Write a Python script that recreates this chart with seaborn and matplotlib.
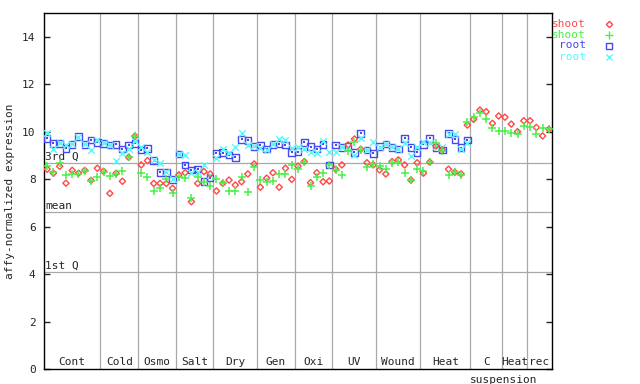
import numpy as np
import pandas as pd
import matplotlib
matplotlib.use("Agg")
import matplotlib.pyplot as plt
from matplotlib.lines import Line2D
import seaborn as sns

# ---------------- data ----------------
groups = ["Cont", "Cold", "Osmo", "Salt", "Dry", "Gen", "Oxi", "UV", "Wound",
          "Heat", "C", "Heat", "rec"]
group_sizes = [9, 6, 6, 6, 7, 6, 6, 7, 7, 8, 5, 4, 4]

shoot_rep1 = [8.42, 8.25, 8.54, 7.83, 8.37, 8.25, 8.37, 7.95, 8.46,
              8.33, 7.40, 8.25, 7.91, 8.92, 9.81,
              8.60, 8.78, 7.82, 7.82, 7.82, 7.61,
              8.18, 8.27, 7.05, 7.82, 8.32, 8.22,
              7.50, 7.82, 7.96, 7.75, 7.89, 8.22, 8.64,
              7.66, 8.04, 8.27, 7.66, 8.46, 7.99,
              8.55, 8.74, 7.85, 8.27, 7.89, 7.92,
              8.42, 8.60, 9.44, 9.69, 9.26, 8.69, 8.60,
              8.39, 8.22, 8.74, 8.81, 8.60, 7.96, 8.69,
              8.25, 8.72, 9.40, 9.23, 8.42, 8.29, 8.22, 10.28,
              10.52, 10.91, 10.84, 10.35, 10.66,
              10.61, 10.32, 10.00, 10.46,
              10.46, 10.18, 9.82, 10.10]

shoot_rep2 = [8.55, 8.32, 8.67, 8.18, 8.22, 8.22, 8.36, 7.94, 8.08,
              8.32, 8.13, 8.22, 8.36, 8.95, 9.82,
              8.25, 8.08, 7.52, 7.61, 7.99, 7.40,
              8.11, 8.04, 7.20, 8.11, 7.89, 7.71,
              7.99, 7.82, 7.48, 7.52, 8.08, 7.45, 8.53,
              7.96, 7.89, 7.92, 8.22, 8.22, 8.58,
              8.42, 8.72, 7.71, 8.11, 8.25, 8.60,
              8.39, 8.18, 9.20, 9.55, 9.23, 8.53, 8.64,
              8.55, 8.42, 8.69, 8.74, 8.27, 7.96, 8.42,
              8.36, 8.72, 9.51, 9.20, 8.18, 8.32, 8.18, 10.42,
              10.63, 10.77, 10.52, 10.14, 10.04,
              10.04, 9.93, 9.89, 10.25,
              10.18, 9.89, 10.14, 10.10]

root_rep1 = [9.72, 9.51, 9.51, 9.30, 9.47, 9.79, 9.47, 9.64, 9.55,
             9.51, 9.43, 9.47, 9.26, 9.43, 9.51,
             9.22, 9.30, 8.78, 8.29, 8.27, 7.99,
             9.06, 8.60, 8.39, 8.42, 7.89, 8.04,
             9.09, 9.12, 9.02, 8.92, 9.68, 9.63, 9.37,
             9.44, 9.26, 9.47, 9.48, 9.44, 9.13,
             9.16, 9.55, 9.37, 9.26, 9.47, 8.60,
             9.44, 9.34, 9.37, 9.13, 9.93, 9.23, 9.09,
             9.37, 9.48, 9.34, 9.26, 9.72, 9.34, 9.13,
             9.47, 9.72, 9.34, 9.23, 9.93, 9.68, 9.33, 9.65]

root_rep2 = [9.93, 9.26, 9.51, 9.43, 9.47, 9.79, 9.47, 9.22, 9.64,
             9.51, 9.43, 8.76, 9.10, 9.26, 9.60,
             9.37, 9.16, 8.79, 8.67, 8.32, 7.99,
             9.06, 9.02, 8.27, 8.30, 8.60, 8.18,
             8.88, 9.26, 9.10, 9.34, 9.93, 9.44, 9.40,
             9.30, 9.23, 9.48, 9.68, 9.65, 9.30,
             9.34, 9.26, 9.16, 9.12, 9.62, 9.13,
             9.13, 9.34, 9.34, 9.02, 9.72, 9.23, 9.58,
             9.37, 9.48, 9.34, 9.26, 9.51, 8.98, 9.37,
             9.58, 9.54, 9.40, 9.37, 9.90, 9.89, 9.26, 9.51]

ref_labels = ["3rd Q", "mean", "1st Q"]
ref_values = [8.67, 6.60, 4.07]

legend_labels = ["shoot", "shoot", "root", "root"]
colors = ["#ff4848", "#48f048", "#4848f0", "#58f8f8"]

# ---------------- figure ----------------
sns.set_style("white")
plt.rcParams["font.family"] = ["DejaVu Sans Mono", "DejaVu Sans"]
plt.rcParams["font.size"] = 8

W, H = 640, 384
fig = plt.figure(figsize=(W / 100, H / 100), dpi=100)
L, R, T, B = 44, 552, 13, 369
ax = fig.add_axes([L / W, 1 - B / H, (R - L) / W, (B - T) / H])

n = len(shoot_rep1)
xs = np.arange(n)

def series(vals):
    v = np.array(vals, dtype=float)
    return pd.DataFrame({"x": xs[:len(v)], "value": v})

gray = "#a8a8a8"
# vertical group separators
bounds = np.cumsum(group_sizes)[:-1] - 0.5
for b in bounds:
    ax.axvline(b, color=gray, lw=0.9, zorder=1)
# reference lines
for lab, v in zip(ref_labels, ref_values):
    ax.axhline(v, color=gray, lw=0.9, zorder=1)
    ax.text(-0.35, v + 0.05, lab, ha="left", va="bottom", fontsize=8, zorder=2)

# points
sns.scatterplot(data=series(root_rep1), x="x", y="value", marker="s", s=22,
                facecolor="none", edgecolor=colors[2], linewidth=1.0, ax=ax, zorder=3)
sns.scatterplot(data=series(root_rep1), x="x", y="value", marker="s", s=2,
                color=colors[2], edgecolor=colors[2], linewidth=0, ax=ax, zorder=3)
sns.scatterplot(data=series(root_rep2), x="x", y="value", marker="x", s=22,
                color=colors[3], linewidth=1.0, ax=ax, zorder=3)
sns.scatterplot(data=series(shoot_rep1), x="x", y="value", marker="D", s=10,
                facecolor="none", edgecolor=colors[0], linewidth=1.0, ax=ax, zorder=4)
sns.scatterplot(data=series(shoot_rep2), x="x", y="value", marker="+", s=30,
                color=colors[1], linewidth=1.1, ax=ax, zorder=4)

ax.set_xlim(-0.5, n - 0.5)
ax.set_ylim(0, 15)
ax.set_yticks(np.arange(0, 15, 2))
ax.set_xticks([])
ax.set_xlabel("")
ax.set_ylabel("")
ax.tick_params(axis="y", direction="in", length=4, width=1, pad=6,
               left=True, right=True, labelsize=8)
for sp in ax.spines.values():
    sp.set_visible(True)
    sp.set_color("black")
    sp.set_linewidth(1.0)

# group labels
starts = np.concatenate([[0], np.cumsum(group_sizes)[:-1]])
for g, st, sz in zip(groups, starts, group_sizes):
    cx = st + (sz - 1) / 2
    ax.text(cx, 0.08, g, ha="center", va="bottom", fontsize=8)
c_idx = groups.index("C")
ax.text(starts[c_idx] + (group_sizes[c_idx] - 1) / 2 + 2.8, -0.25, "suspension",
        ha="center", va="top", fontsize=8, clip_on=False)

# y label
fig.text(10 / W, 1 - 191 / H, "affy-normalized expression", rotation=90,
         ha="center", va="center", fontsize=8)

# legend (outside, right)
leg_y = [24, 34.5, 45.5, 56.5]
leg_markers = [("D", 3.2, "none"), ("+", 5.5, None), ("s", 4.6, "none"), ("x", 4.3, None)]
for lab, col, yy, (mk, ms, fc) in zip(legend_labels, colors, leg_y, leg_markers):
    fig.text(586 / W, 1 - yy / H, lab, color=col, ha="right", va="center", fontsize=8)
    kw = dict(marker=mk, markersize=ms, color=col, markeredgecolor=col, mew=1.0, ls="none")
    if fc is not None:
        kw["markerfacecolor"] = fc
    fig.add_artist(Line2D([609 / W], [1 - yy / H], transform=fig.transFigure, **kw))

fig.savefig("out.png", dpi=100)
